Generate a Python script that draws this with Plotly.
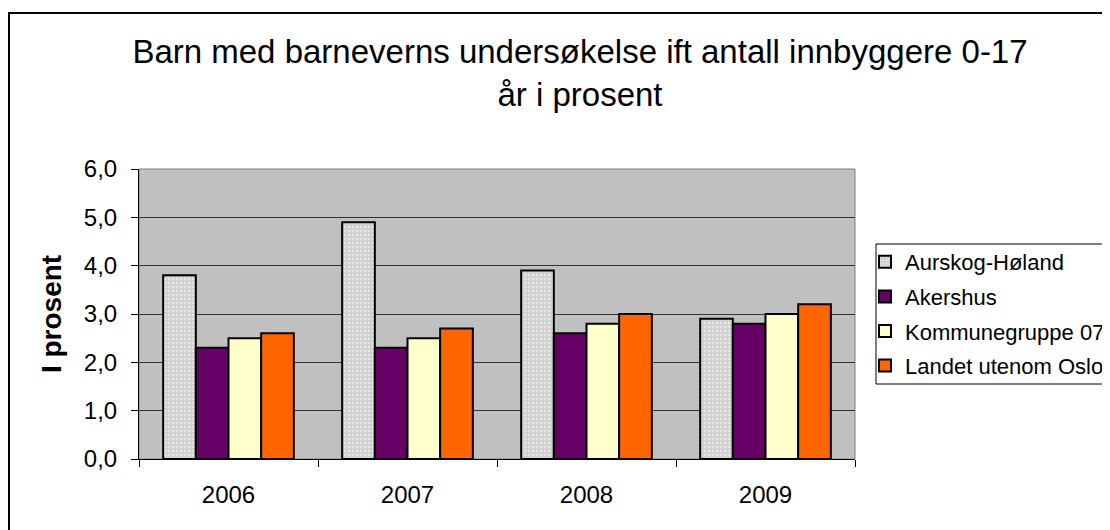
import plotly.graph_objects as go

years = ["2006", "2007", "2008", "2009"]
aurskog = [3.8, 4.9, 3.9, 2.9]
akershus = [2.3, 2.3, 2.6, 2.8]
kommunegruppe = [2.5, 2.5, 2.8, 3.0]
landet = [2.6, 2.7, 3.0, 3.2]

# page has an 8px body margin, so the figure is 8px smaller than the window
W, H = 1102, 522
L, R, T, B = 131, 255, 161, 71
pw, ph = W - L - R, H - T - B

FONT = "Liberation Sans, Arial, sans-serif"


def px_x(x):
    return (x - L) / pw


def px_y(y):
    return (H - B - y) / ph


fig = go.Figure()
fig.add_trace(go.Bar(
    x=years, y=aurskog, name="Aurskog-Høland", legendgroup="a",
    marker=dict(color="#CFCFCF", line=dict(color="black", width=2),
                pattern=dict(shape=".", fgcolor="white", size=4, solidity=0.35)),
))
fig.add_trace(go.Bar(
    x=years, y=akershus, name="Akershus", legendgroup="b",
    marker=dict(color="#660066", line=dict(color="black", width=2)),
))
fig.add_trace(go.Bar(
    x=years, y=kommunegruppe, name="Kommunegruppe 07", legendgroup="c",
    marker=dict(color="#FFFFCC", line=dict(color="black", width=2)),
))
fig.add_trace(go.Bar(
    x=years, y=landet, name="Landet utenom Oslo", legendgroup="d",
    marker=dict(color="#FF6600", line=dict(color="black", width=2)),
))

# outer chart border (runs past the right/bottom edge like the source)
fig.add_shape(type="rect", xref="paper", yref="paper",
              x0=px_x(1), x1=px_x(W + 20), y0=px_y(H + 20), y1=px_y(5),
              line=dict(color="black", width=2), fillcolor="rgba(0,0,0,0)")
# plot area border
fig.add_shape(type="rect", xref="paper", yref="paper", x0=0, x1=1, y0=0, y1=1,
              line=dict(color="#808080", width=1), layer="below")
# legend box
fig.add_shape(type="rect", xref="paper", yref="paper",
              x0=px_x(868), x1=px_x(W + 20), y0=px_y(376), y1=px_y(236),
              line=dict(color="black", width=1), fillcolor="white", layer="below")

fig.update_layout(
    width=W, height=H,
    margin=dict(l=L, r=R, t=T, b=B, autoexpand=False),
    paper_bgcolor="white", plot_bgcolor="#C0C0C0",
    font=dict(family=FONT, size=24, color="black"),
    separators=",.",
    barmode="group", bargap=0.27, bargroupgap=0,
    title=dict(
        text="Barn med barneverns undersøkelse ift antall innbyggere 0-17<br>år i prosent",
        x=572 / W, xanchor="center", y=1 - 55 / H, yanchor="top",
        font=dict(size=33, family=FONT),
    ),
    legend=dict(
        x=px_x(857), xanchor="left", y=px_y(233), yanchor="top",
        bgcolor="rgba(0,0,0,0)", borderwidth=0,
        font=dict(size=22, family=FONT), tracegroupgap=3,
    ),
    showlegend=True,
)
fig.update_xaxes(
    type="category", showline=True, linecolor="black", linewidth=1,
    ticks="outside", tickson="boundaries", ticklen=7, tickcolor="black",
    showgrid=False, ticklabelstandoff=14,
)
fig.update_yaxes(
    range=[0, 6], dtick=1, tickformat=".1f",
    showline=True, linecolor="black", linewidth=1,
    ticks="outside", ticklen=7, tickcolor="black", ticklabelstandoff=9,
    showgrid=True, gridcolor="#333333", gridwidth=1, zeroline=False,
    title=dict(text="<b>I prosent</b>", font=dict(size=28, family=FONT), standoff=14),
)

fig.write_html("out.html")
